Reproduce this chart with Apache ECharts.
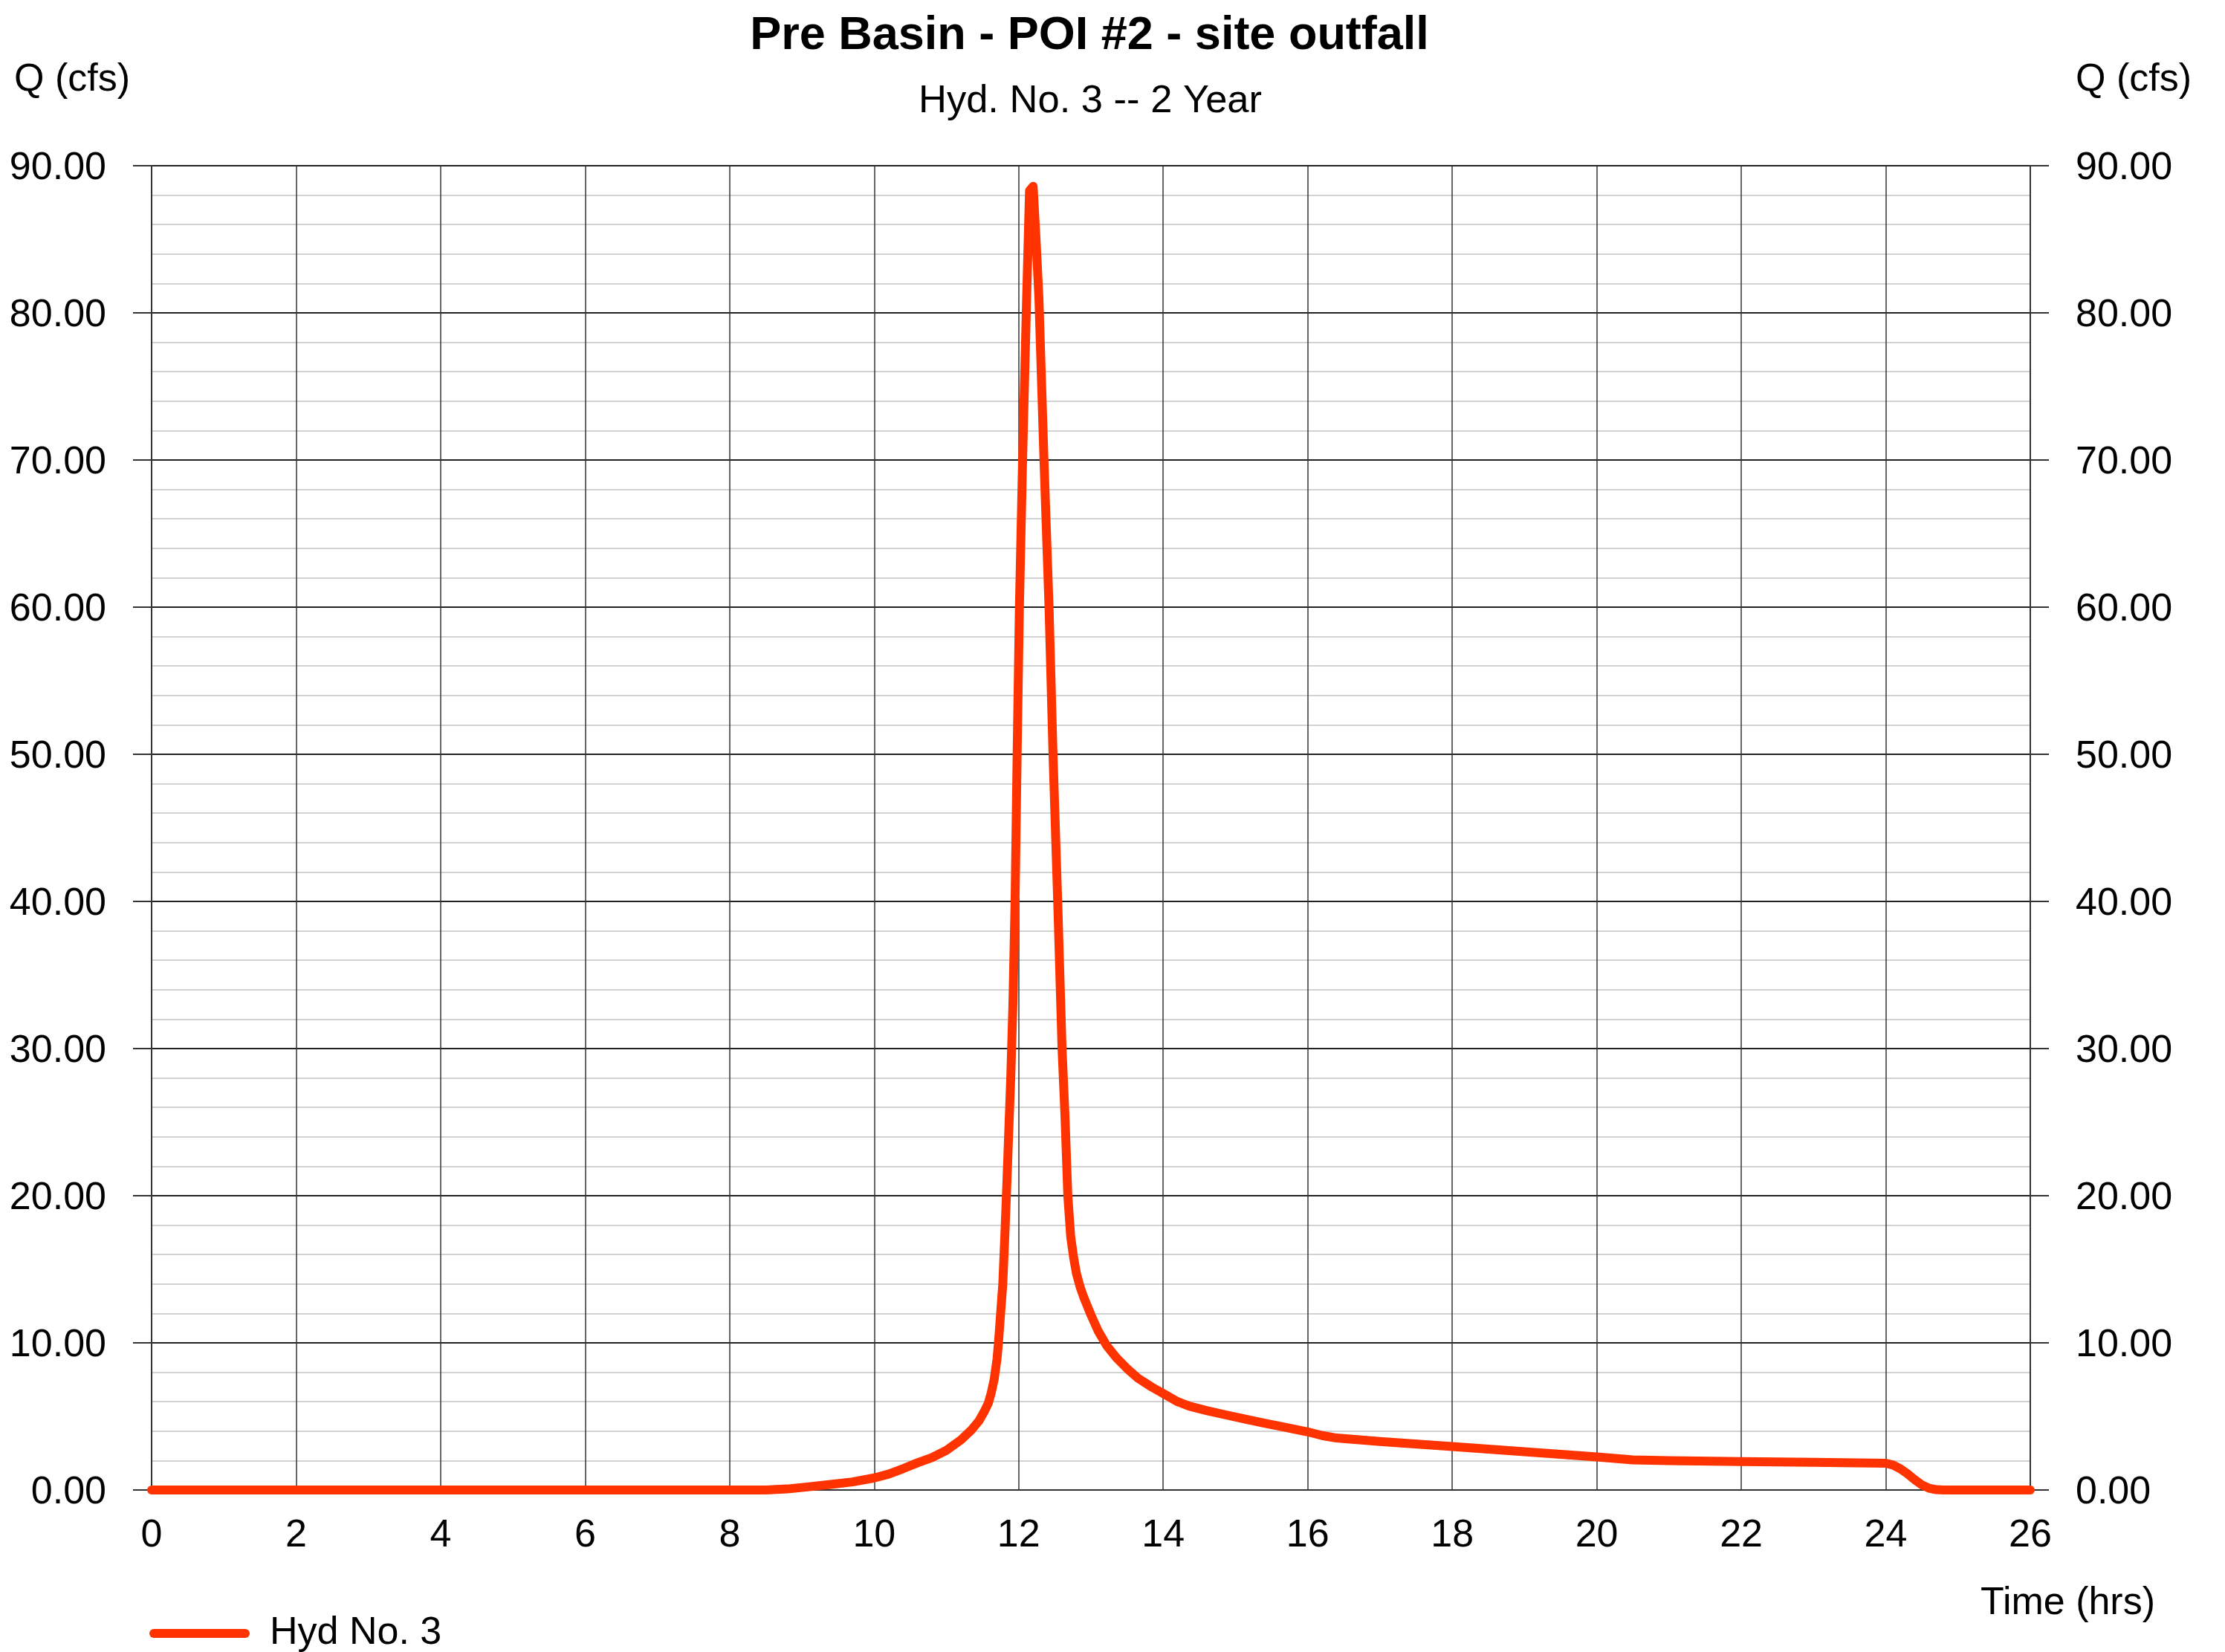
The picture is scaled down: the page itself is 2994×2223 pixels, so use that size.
<!DOCTYPE html>
<html>
<head>
<meta charset="utf-8">
<script src="https://cdn.jsdelivr.net/npm/echarts@6/dist/echarts.min.js"></script>
<style>
html,body{margin:0;padding:0;background:#fff;}
#chart{width:2994px;height:2223px;}
</style>
</head>
<body>
<div id="chart"></div>
<script>
const chartTitle = 'Pre Basin - POI #2 - site outfall';
const chartSubtitle = 'Hyd. No. 3 -- 2 Year';
const yAxisName = 'Q (cfs)';
const xAxisName = 'Time (hrs)';
const seriesName = 'Hyd No. 3';

const timeHrs = [0, 8.5, 8.8, 9.1, 9.4, 9.7, 10.0, 10.2, 10.4, 10.6, 10.8, 11.0, 11.2, 11.35, 11.45, 11.52, 11.58, 11.62, 11.66, 11.7, 11.72, 11.75, 11.78, 11.81, 11.83, 11.86, 11.89, 11.92, 11.95, 11.98, 12.01, 12.054, 12.11, 12.15, 12.2, 12.24, 12.28, 12.35, 12.42, 12.475, 12.54, 12.6, 12.64, 12.68, 12.72, 12.76, 12.8, 12.85, 12.9, 12.95, 13.0, 13.1, 13.22, 13.35, 13.49, 13.65, 13.84, 14.02, 14.2, 14.36, 14.6, 14.87, 15.1, 15.39, 15.65, 15.9, 16.0, 16.2, 16.4, 17.0, 18.0, 19.0, 20.0, 20.5, 21.0, 22.0, 23.0, 24.0, 24.1, 24.2, 24.3, 24.4, 24.5, 24.6, 24.7, 24.8, 26];
const flowCfs = [0, 0, 0.07, 0.22, 0.38, 0.55, 0.82, 1.08, 1.45, 1.85, 2.2, 2.7, 3.4, 4.1, 4.7, 5.3, 5.9, 6.6, 7.5, 8.9, 10, 12, 14, 17.5, 20, 24, 28, 33, 40, 50.5, 60, 70, 81, 88.3, 88.6, 85, 81, 70, 60, 50, 40, 30, 25.5, 20, 17.2, 15.8, 14.7, 13.8, 13.1, 12.5, 11.9, 10.8, 9.8, 9.0, 8.3, 7.6, 7.0, 6.5, 6.0, 5.7, 5.4, 5.1, 4.85, 4.55, 4.3, 4.05, 3.95, 3.7, 3.53, 3.3, 2.95, 2.6, 2.25, 2.05, 2.0, 1.93, 1.88, 1.82, 1.7, 1.45, 1.1, 0.7, 0.35, 0.12, 0.02, 0, 0];

const xMin = 0, xMax = 26, xStep = 2;
const yMin = 0, yMax = 90, yStep = 10;

const points = timeHrs.map((t, i) => [t, flowCfs[i]]);

const FONT = '"Liberation Sans", Arial, Helvetica, sans-serif';
const chart = echarts.init(document.getElementById('chart'), null, {renderer: 'canvas'});

const yAxisCommon = {
  type: 'value', min: yMin, max: yMax, interval: yStep,
  axisLine: {show: true, lineStyle: {color: '#333', width: 2}},
  axisTick: {show: true, length: 25, inside: false, lineStyle: {color: '#333', width: 2}},
  axisLabel: {fontFamily: FONT, fontSize: 52, color: '#000', margin: 61,
    formatter: v => '{v|' + v.toFixed(2) + '}',
    rich: {v: {fontFamily: FONT, fontSize: 52, color: '#000', padding: [8, 0, 0, 0]}}}
};

chart.setOption({
  animation: false,
  backgroundColor: '#fff',
  grid: {left: 204, right: 262, top: 223, bottom: 218, containLabel: false},
  xAxis: {
    type: 'value', min: xMin, max: xMax, interval: xStep,
    axisLine: {show: true, lineStyle: {color: '#333', width: 2}},
    axisTick: {show: false},
    axisLabel: {fontFamily: FONT, fontSize: 52, color: '#000', margin: 36},
    splitLine: {show: true, lineStyle: {color: '#333', width: 1.5}}
  },
  yAxis: [
    Object.assign({}, yAxisCommon, {
      position: 'left',
      splitLine: {show: true, lineStyle: {color: '#222', width: 2}},
      minorTick: {show: true, splitNumber: 5, length: 0},
      minorSplitLine: {show: true, lineStyle: {color: '#d2d2d2', width: 2}}
    }),
    Object.assign({}, yAxisCommon, {
      position: 'right',
      splitLine: {show: false}
    })
  ],
  legend: {
    show: true, left: 201, top: 2172, orient: 'horizontal', padding: 0,
    itemWidth: 135, itemHeight: 12,
    icon: 'path://M6,0 L129,0 A6,6 0 0 1 129,12 L6,12 A6,6 0 0 1 6,0 Z',
    textStyle: {fontFamily: FONT, fontSize: 52, color: '#000', padding: [0, 0, 0, 22]},
    data: [seriesName]
  },
  graphic: [
    {type: 'text', x: 1466, y: 49, z: 10,
      style: {text: chartTitle, font: 'bold 63px ' + FONT, fill: '#000', align: 'center', verticalAlign: 'middle', textAlign: 'center', textVerticalAlign: 'middle'}},
    {type: 'text', x: 1467, y: 137, z: 10,
      style: {text: chartSubtitle, font: '52.5px ' + FONT, fill: '#000', align: 'center', verticalAlign: 'middle', textAlign: 'center', textVerticalAlign: 'middle'}},
    {type: 'text', x: 19, y: 108, z: 10,
      style: {text: yAxisName, font: '52px ' + FONT, fill: '#000', align: 'left', verticalAlign: 'middle', textAlign: 'left', textVerticalAlign: 'middle'}},
    {type: 'text', x: 2793, y: 108, z: 10,
      style: {text: yAxisName, font: '52px ' + FONT, fill: '#000', align: 'left', verticalAlign: 'middle', textAlign: 'left', textVerticalAlign: 'middle'}},
    {type: 'text', x: 2900, y: 2158, z: 10,
      style: {text: xAxisName, font: '52px ' + FONT, fill: '#000', align: 'right', verticalAlign: 'middle', textAlign: 'right', textVerticalAlign: 'middle'}}
  ],
  series: [{
    name: seriesName,
    type: 'line',
    data: points,
    yAxisIndex: 0,
    showSymbol: false,
    symbol: 'none',
    smooth: false,
    clip: false,
    color: '#ff3300',
    lineStyle: {color: '#ff3300', width: 12, cap: 'round', join: 'round'},
    z: 5
  }]
});
</script>
</body>
</html>
